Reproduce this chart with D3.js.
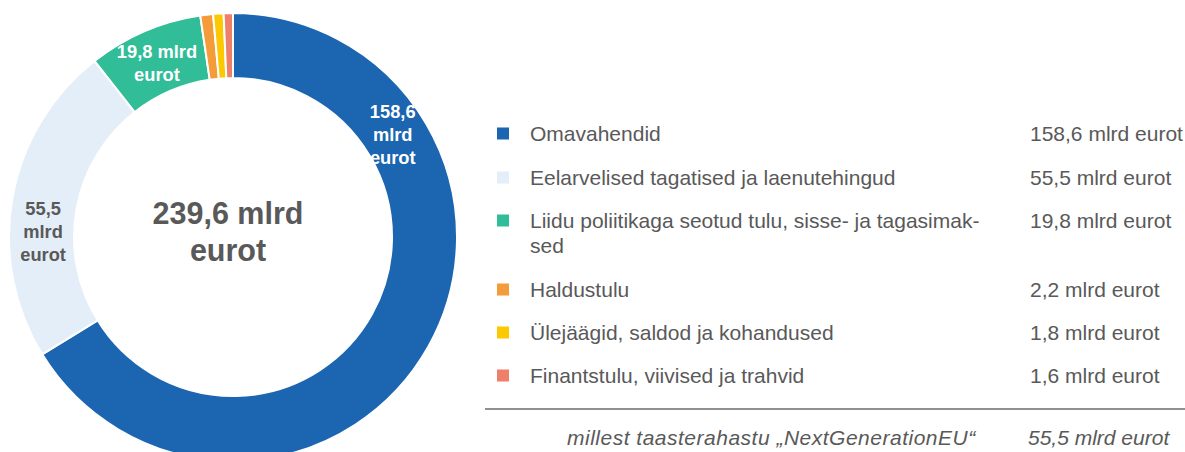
<!DOCTYPE html>
<html>
<head>
<meta charset="utf-8">
<script src="https://cdn.jsdelivr.net/npm/d3@7"></script>
<style>
  html, body { margin: 0; padding: 0; background: #fff; }
  svg { display: block; }
  text { font-family: "Liberation Sans", Arial, sans-serif; }
</style>
</head>
<body>
<svg id="chart" width="1185" height="452"></svg>
<script>
// ---- data ----
const categories = [
  "Omavahendid",
  "Eelarvelised tagatised ja laenutehingud",
  "Liidu poliitikaga seotud tulu, sisse- ja tagasimak-|sed",
  "Haldustulu",
  "Ülejäägid, saldod ja kohandused",
  "Finantstulu, viivised ja trahvid"
];
const values = [158.6, 55.5, 19.8, 2.2, 1.8, 1.6];
const valueLabels = ["158,6 mlrd eurot", "55,5 mlrd eurot", "19,8 mlrd eurot", "2,2 mlrd eurot", "1,8 mlrd eurot", "1,6 mlrd eurot"];
const colors = ["#1b65b1", "#e3eef8", "#30bd97", "#f39c39", "#fcc800", "#ee7f68"];
const sliceLabels = [["158,6", "mlrd", "eurot"], ["55,5", "mlrd", "eurot"], ["19,8 mlrd", "eurot"], null, null, null];
const sliceLabelColors = ["#ffffff", "#595959", "#ffffff"];
const totalLabel = ["239,6 mlrd", "eurot"];
const footnoteLabel = "millest taasterahastu „NextGenerationEU“";
const footnoteValue = "55,5 mlrd eurot";

// ---- layout ----
const svg = d3.select("#chart");
const cx = 233, cy = 237, R = 224, r = 159;
const labelT = [0.24, 0.40, 0.49];
const textColor = "#595959";

const pie = d3.pie().sort(null).value(d => d)(values);
const arc = d3.arc().innerRadius(r).outerRadius(R);

const g = svg.append("g").attr("transform", `translate(${cx},${cy})`);

g.selectAll("path.slice").data(pie).join("path")
  .attr("class", "slice")
  .attr("d", arc)
  .attr("fill", (d, i) => colors[i])
  .attr("stroke", "#fff")
  .attr("stroke-width", 2);

// clip labels to the ring
svg.append("defs").append("clipPath").attr("id", "ring")
  .append("path")
  .attr("d", d3.arc().innerRadius(r).outerRadius(R)({startAngle: 0, endAngle: 2 * Math.PI}));

const lg = g.append("g").attr("clip-path", "url(#ring)");
const midR = 190;
const lineH = 23;
pie.forEach((d, i) => {
  const lines = sliceLabels[i];
  if (!lines) return;
  const a = d.startAngle + labelT[i] * (d.endAngle - d.startAngle);
  const x = midR * Math.sin(a), y = -midR * Math.cos(a);
  const t = lg.append("text")
    .attr("text-anchor", "middle")
    .attr("font-size", 18.3)
    .attr("font-weight", "bold")
    .attr("fill", sliceLabelColors[i]);
  lines.forEach((ln, k) => {
    t.append("tspan")
      .attr("x", x)
      .attr("y", y + (k - (lines.length - 1) / 2) * lineH + 6.5)
      .text(ln);
  });
});

// center total
const ct = g.append("text")
  .attr("text-anchor", "middle")
  .attr("font-size", 30.5)
  .attr("font-weight", "bold")
  .attr("fill", textColor);
totalLabel.forEach((ln, k) => {
  ct.append("tspan").attr("x", -5).attr("y", -13 + k * 37).text(ln);
});

// ---- legend ----
const rowY = [134, 178, 221, 290, 333, 376];
const fs = 21;
const leg = svg.append("g");
categories.forEach((c, i) => {
  const y = rowY[i];
  leg.append("rect")
    .attr("x", 497).attr("y", y - 6.5)
    .attr("width", 12).attr("height", 12)
    .attr("fill", colors[i]);
  const parts = c.split("|");
  parts.forEach((p, k) => {
    leg.append("text")
      .attr("x", 530).attr("y", y + 7 + k * 25)
      .attr("font-size", fs)
      .attr("fill", textColor)
      .text(p);
  });
  leg.append("text")
    .attr("x", 1030).attr("y", y + 7)
    .attr("font-size", fs)
    .attr("fill", textColor)
    .text(valueLabels[i]);
});

leg.append("line")
  .attr("x1", 485).attr("x2", 1185)
  .attr("y1", 409).attr("y2", 409)
  .attr("stroke", "#6b6b6b").attr("stroke-width", 1.6);

leg.append("text")
  .attr("x", 567).attr("y", 445)
  .attr("font-size", fs).attr("font-style", "italic")
  .attr("letter-spacing", 0.5)
  .attr("fill", textColor)
  .text(footnoteLabel);
leg.append("text")
  .attr("x", 1028).attr("y", 445)
  .attr("font-size", fs).attr("font-style", "italic")
  .attr("fill", textColor)
  .text(footnoteValue);
</script>
</body>
</html>
